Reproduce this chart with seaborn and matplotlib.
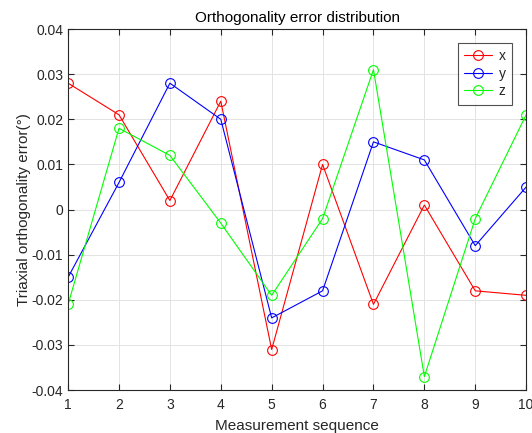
import pandas as pd
import matplotlib
matplotlib.use('Agg')
import matplotlib.pyplot as plt
import seaborn as sns

seq = [1, 2, 3, 4, 5, 6, 7, 8, 9, 10]
err_x = [0.028, 0.021, 0.002, 0.024, -0.031, 0.010, -0.021, 0.001, -0.018, -0.019]
err_y = [-0.015, 0.006, 0.028, 0.020, -0.024, -0.018, 0.015, 0.011, -0.008, 0.005]
err_z = [-0.021, 0.018, 0.012, -0.003, -0.019, -0.002, 0.031, -0.037, -0.002, 0.021]
y_ticks = [-0.04, -0.03, -0.02, -0.01, 0, 0.01, 0.02, 0.03, 0.04]
y_tick_labels = ['-0.04', '-0.03', '-0.02', '-0.01', '0', '0.01', '0.02', '0.03', '0.04']

sns.set_style('white')
plt.rcParams['font.family'] = ['Liberation Sans', 'DejaVu Sans']

df = pd.DataFrame({'seq': seq, 'x': err_x, 'y': err_y, 'z': err_z})

fig = plt.figure(figsize=(5.32, 4.33), dpi=100)
ax = fig.add_axes([0.128, 0.099, 0.861, 0.834])

colors = {'x': '#ff0000', 'y': '#0000ff', 'z': '#00ff00'}
for name in ['x', 'y', 'z']:
    sns.lineplot(data=df, x='seq', y=name, ax=ax, color=colors[name], label=name,
                 marker='o', markersize=7, markerfacecolor='none',
                 markeredgecolor=colors[name], markeredgewidth=0.8, linewidth=0.8)

ax.set_xlim(1, 10)
ax.set_ylim(-0.04, 0.04)
ax.set_xticks(seq)
ax.set_yticks(y_ticks)
ax.set_yticklabels(y_tick_labels)

ax.grid(True, color='#e3e3e3', linewidth=0.7)
ax.set_axisbelow(True)
for s in ax.spines.values():
    s.set_color('#262626')
    s.set_linewidth(0.8)
ax.tick_params(direction='in', length=4, width=0.8, color='#262626',
               labelsize=10, labelcolor='#262626',
               top=True, right=True, left=True, bottom=True)
ax.tick_params(axis='x', pad=6)

ax.set_title('Orthogonality error distribution', fontsize=11, color='black', pad=5)
ax.set_xlabel('Measurement sequence', fontsize=11, color='#262626', labelpad=5)
ax.set_ylabel('Triaxial orthogonality error(°)', fontsize=11, color='#262626', labelpad=0)

leg = ax.legend(loc='upper right', fontsize=10, frameon=True, fancybox=False,
                handlelength=2.0, handletextpad=0.5, borderpad=0.45, labelspacing=0.25,
                borderaxespad=0, bbox_to_anchor=(0.969, 0.961))
leg.get_frame().set_edgecolor('#262626')
leg.get_frame().set_linewidth(0.8)

fig.savefig('out.png', dpi=100)
